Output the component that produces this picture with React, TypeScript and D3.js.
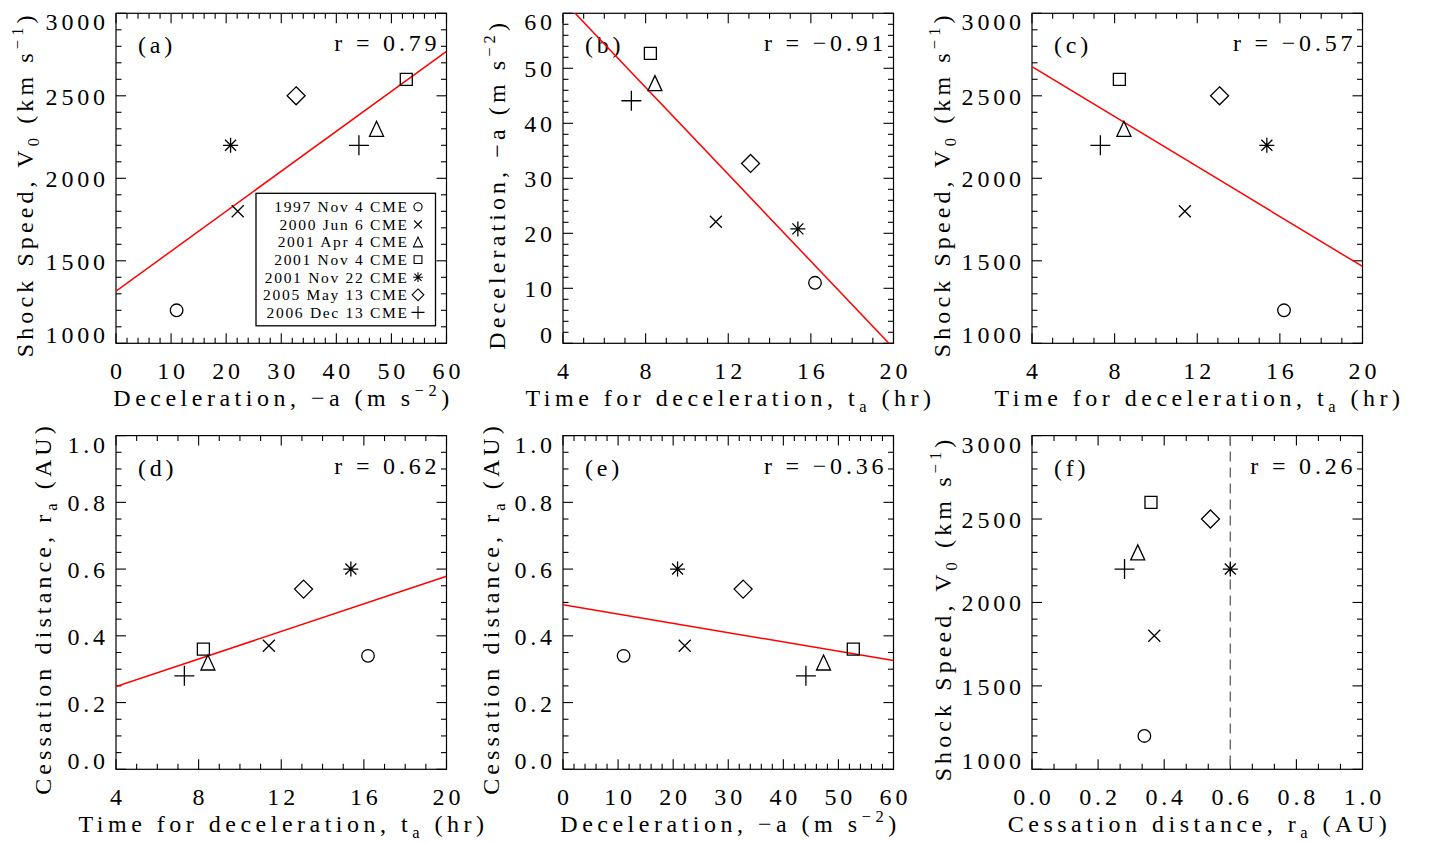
import React from "react";
import * as d3 from "d3";

// ---------------- data ----------------
const events = [
  "1997 Nov 4 CME",
  "2000 Jun 6 CME",
  "2001 Apr 4 CME",
  "2001 Nov 4 CME",
  "2001 Nov 22 CME",
  "2005 May 13 CME",
  "2006 Dec 13 CME",
];
const symbols = ["circle", "cross", "triangle", "square", "asterisk", "diamond", "plus"];
const deceleration = [11.0, 22.1, 47.3, 52.7, 20.8, 32.7, 44.1]; // -a (m s^-2)
const timeDecel = [16.2, 11.4, 8.45, 8.23, 15.37, 13.08, 7.31]; // t_a (hr)
const shockSpeed = [1200, 1800, 2300, 2600, 2200, 2500, 2200]; // V0 (km/s)
const cessation = [0.34, 0.37, 0.32, 0.36, 0.6, 0.54, 0.28]; // r_a (AU)

const panelLabels = ["(a)", "(b)", "(c)", "(d)", "(e)", "(f)"];
const rValues = ["0.79", "\u22120.91", "\u22120.57", "0.62", "\u22120.36", "0.26"];
const decelTicks = [0, 10, 20, 30, 40, 50, 60];
const timeTicks = [4, 8, 12, 16, 20];
const speedTicks = [1000, 1500, 2000, 2500, 3000];
const distTicks = [0, 0.2, 0.4, 0.6, 0.8, 1.0];
const fVerticalLine = 0.6;

// ---------------- styling ----------------
const FONT = "'Liberation Serif', 'Times New Roman', serif";
const FS = 24;
const LS = 3.8;
const TLS = 4.5;
const YTLS = 4.1;
const SUB = 16.5;

type Axis = {
  domain: [number, number];
  ticks: number[];
  minor: number;
  fmt: (v: number) => string;
  title: (key: string) => React.ReactNode;
};

const speedTitle = (k: string) => [
  <tspan key={k + "1"}>Shock Speed, V</tspan>,
  <tspan key={k + "2"} dy={6} fontSize={SUB}>0</tspan>,
  <tspan key={k + "3"} dy={-6}> (km s</tspan>,
  <tspan key={k + "4"} dy={-10} fontSize={SUB}>{"\u22121"}</tspan>,
  <tspan key={k + "5"} dy={10}>)</tspan>,
];
const decelTitle = (k: string) => [
  <tspan key={k + "1"}>{"Deceleration, \u2212a (m s"}</tspan>,
  <tspan key={k + "2"} dy={-10} fontSize={SUB}>{"\u22122"}</tspan>,
  <tspan key={k + "3"} dy={10}>)</tspan>,
];
const timeTitle = (k: string) => [
  <tspan key={k + "1"}>Time for deceleration, t</tspan>,
  <tspan key={k + "2"} dy={6} fontSize={SUB}>a</tspan>,
  <tspan key={k + "3"} dy={-6}> (hr)</tspan>,
];
const distTitle = (k: string) => [
  <tspan key={k + "1"}>Cessation distance, r</tspan>,
  <tspan key={k + "2"} dy={6} fontSize={SUB}>a</tspan>,
  <tspan key={k + "3"} dy={-6}> (AU)</tspan>,
];

const decelAxis: Axis = { domain: [0, 60], ticks: decelTicks, minor: 2, fmt: (v) => String(v), title: decelTitle };
const timeAxis: Axis = { domain: [4, 20], ticks: timeTicks, minor: 1, fmt: (v) => String(v), title: timeTitle };
const speedAxis: Axis = { domain: [1000, 3000], ticks: speedTicks, minor: 100, fmt: (v) => String(v), title: speedTitle };
const distAxisY: Axis = { domain: [0, 1], ticks: distTicks, minor: 0.05, fmt: (v) => v.toFixed(1), title: distTitle };
const distAxisX: Axis = { domain: [0, 1], ticks: distTicks, minor: 0.2 / 3, fmt: (v) => v.toFixed(1), title: distTitle };

function linFit(xs: number[], ys: number[]) {
  const mx = d3.mean(xs)!;
  const my = d3.mean(ys)!;
  let sxy = 0, sxx = 0;
  xs.forEach((x, i) => {
    sxy += (x - mx) * (ys[i] - my);
    sxx += (x - mx) * (x - mx);
  });
  const slope = sxy / sxx;
  return { slope, intercept: my - slope * mx };
}

function symbolPath(type: string, s: number): string {
  const p = d3.path();
  switch (type) {
    case "circle":
      p.moveTo(6.3 * s, 0);
      p.arc(0, 0, 6.3 * s, 0, Math.PI * 2);
      break;
    case "cross": {
      const h = 6 * s;
      p.moveTo(-h, -h); p.lineTo(h, h);
      p.moveTo(-h, h); p.lineTo(h, -h);
      break;
    }
    case "triangle": {
      const w = 7 * s, hh = 7.5 * s;
      p.moveTo(-w, hh); p.lineTo(0, -hh); p.lineTo(w, hh); p.closePath();
      break;
    }
    case "square": {
      const h = 6 * s;
      p.rect(-h, -h, 2 * h, 2 * h);
      break;
    }
    case "asterisk": {
      const h = 7.5 * s, d = 5.5 * s;
      p.moveTo(0, -h); p.lineTo(0, h);
      p.moveTo(-h, 0); p.lineTo(h, 0);
      p.moveTo(-d, -d); p.lineTo(d, d);
      p.moveTo(-d, d); p.lineTo(d, -d);
      break;
    }
    case "diamond": {
      const h = 9 * s;
      p.moveTo(0, -h); p.lineTo(h, 0); p.lineTo(0, h); p.lineTo(-h, 0); p.closePath();
      break;
    }
    case "plus": {
      const h = 10 * s;
      p.moveTo(-h, 0); p.lineTo(h, 0);
      p.moveTo(0, -h); p.lineTo(0, h);
      break;
    }
  }
  return p.toString();
}

function minorValues(ax: Axis) {
  const n = Math.round((ax.domain[1] - ax.domain[0]) / ax.minor);
  return d3.range(n + 1).map((i) => ax.domain[0] + i * ax.minor);
}

type PanelProps = {
  idx: number;
  left: number;
  top: number;
  w: number;
  h: number;
  xAxis: Axis;
  yAxis: Axis;
  xs: number[];
  ys: number[];
  withFit: boolean;
  vline?: number;
  yTitleOffset: number;
  legend?: boolean;
};

function Panel(p: PanelProps) {
  const { idx, left, top, w, h, xAxis, yAxis, xs, ys } = p;
  const x = d3.scaleLinear().domain(xAxis.domain).range([left, left + w]);
  const y = d3.scaleLinear().domain(yAxis.domain).range([top + h, top]);
  const bottom = top + h;
  const right = left + w;
  const clipId = "clip" + idx;
  const MAJ = 10, MIN = 5.5;

  const isMajorX = (v: number) => xAxis.ticks.some((t) => Math.abs(t - v) < 1e-6);
  const isMajorY = (v: number) => yAxis.ticks.some((t) => Math.abs(t - v) < 1e-6);

  let fitLine: React.ReactNode = null;
  if (p.withFit) {
    const f = linFit(xs, ys);
    const line = d3
      .line<number>()
      .x((v) => x(v))
      .y((v) => y(f.slope * v + f.intercept));
    fitLine = (
      <path d={line(xAxis.domain) || ""} stroke="#ff0000" strokeWidth={1.5} fill="none" clipPath={`url(#${clipId})`} />
    );
  }

  return (
    <g>
      <defs>
        <clipPath id={clipId}>
          <rect x={left} y={top} width={w} height={h} />
        </clipPath>
      </defs>
      {minorValues(xAxis).map((v, i) => {
        const len = isMajorX(v) ? MAJ : MIN;
        return (
          <g key={"xt" + i} stroke="#000" strokeWidth={1.1}>
            <line x1={x(v)} x2={x(v)} y1={bottom} y2={bottom - len} />
            <line x1={x(v)} x2={x(v)} y1={top} y2={top + len} />
          </g>
        );
      })}
      {minorValues(yAxis).map((v, i) => {
        const len = isMajorY(v) ? MAJ : MIN;
        return (
          <g key={"yt" + i} stroke="#000" strokeWidth={1.1}>
            <line x1={left} x2={left + len} y1={y(v)} y2={y(v)} />
            <line x1={right} x2={right - len} y1={y(v)} y2={y(v)} />
          </g>
        );
      })}
      <rect x={left} y={top} width={w} height={h} fill="none" stroke="#000" strokeWidth={1.2} />

      {xAxis.ticks.map((v, i) => (
        <text key={"xl" + i} x={x(v) + LS / 2} y={bottom + 36} textAnchor="middle" fontSize={FS} letterSpacing={LS} fontFamily={FONT}>
          {xAxis.fmt(v)}
        </text>
      ))}
      {yAxis.ticks.map((v, i) => {
        const base = Math.max(top + 17, Math.min(bottom, y(v) + 9));
        return (
          <text key={"yl" + i} x={left - 11 + LS} y={base} textAnchor="end" fontSize={FS} letterSpacing={LS} fontFamily={FONT}>
            {yAxis.fmt(v)}
          </text>
        );
      })}

      <text x={left + w / 2 + TLS / 2} y={bottom + 63} textAnchor="middle" fontSize={FS} letterSpacing={TLS} fontFamily={FONT}>
        {xAxis.title("x" + idx)}
      </text>
      <text
        transform={`translate(${left - p.yTitleOffset},${top + h / 2 + 6}) rotate(-90)`}
        textAnchor="middle"
        fontSize={FS}
        letterSpacing={YTLS}
        fontFamily={FONT}
      >
        {yAxis.title("y" + idx)}
      </text>

      <text x={left + 22} y={top + 40} fontSize={FS} letterSpacing={LS} fontFamily={FONT}>
        {panelLabels[idx]}
      </text>
      <text x={right - 10 + LS} y={top + 38} textAnchor="end" fontSize={FS} letterSpacing={LS} fontFamily={FONT} xmlSpace="preserve">
        {"r = " + rValues[idx]}
      </text>

      {fitLine}
      {p.vline !== undefined && (
        <line x1={x(p.vline)} x2={x(p.vline)} y1={top} y2={bottom} stroke="#707070" strokeWidth={1.5} strokeDasharray="10,6" />
      )}

      {xs.map((v, i) => (
        <path
          key={"pt" + i}
          d={symbolPath(symbols[i], 1)}
          transform={`translate(${x(v)},${y(ys[i])})`}
          fill="none"
          stroke="#000"
          strokeWidth={1.3}
        />
      ))}

      {p.legend && (
        <g>
          <rect x={left + 140} y={top + 180} width={179.5} height={132.5} fill="#fff" stroke="#000" strokeWidth={1.3} />
          {events.map((e, i) => (
            <g key={"lg" + i}>
              <text x={left + 291 + 1.7} y={top + 198.8 + i * 17.6} textAnchor="end" fontSize={15.5} letterSpacing={1.7} fontFamily={FONT}>
                {e}
              </text>
              <path
                d={symbolPath(symbols[i], 0.65)}
                transform={`translate(${left + 302},${top + 193.5 + i * 17.6})`}
                fill="none"
                stroke="#000"
                strokeWidth={1.1}
              />
            </g>
          ))}
        </g>
      )}
    </g>
  );
}

export default function App() {
  const colLeft = [116, 563, 1032];
  const rowTop = [13.3, 435.6];
  const rowH = [330, 333.7];
  const W = 330.5;
  return (
    <svg width={1429} height={844} style={{ display: "block", position: "absolute", left: 0, top: 0, background: "#fff" }}>
      <rect x={0} y={0} width={1429} height={844} fill="#fff" />
      <Panel idx={0} left={colLeft[0]} top={rowTop[0]} w={W} h={rowH[0]} xAxis={decelAxis} yAxis={speedAxis} xs={deceleration} ys={shockSpeed} withFit yTitleOffset={83} legend />
      <Panel idx={1} left={colLeft[1]} top={rowTop[0]} w={W} h={rowH[0]} xAxis={timeAxis} yAxis={decelAxis} xs={timeDecel} ys={deceleration} withFit yTitleOffset={58} />
      <Panel idx={2} left={colLeft[2]} top={rowTop[0]} w={W} h={rowH[0]} xAxis={timeAxis} yAxis={speedAxis} xs={timeDecel} ys={shockSpeed} withFit yTitleOffset={82} />
      <Panel idx={3} left={colLeft[0]} top={rowTop[1]} w={W} h={rowH[1]} xAxis={timeAxis} yAxis={distAxisY} xs={timeDecel} ys={cessation} withFit yTitleOffset={65} />
      <Panel idx={4} left={colLeft[1]} top={rowTop[1]} w={W} h={rowH[1]} xAxis={decelAxis} yAxis={distAxisY} xs={deceleration} ys={cessation} withFit yTitleOffset={64} />
      <Panel idx={5} left={colLeft[2]} top={rowTop[1]} w={W} h={rowH[1]} xAxis={distAxisX} yAxis={speedAxis} xs={cessation} ys={shockSpeed} withFit={false} vline={fVerticalLine} yTitleOffset={81} />
    </svg>
  );
}
